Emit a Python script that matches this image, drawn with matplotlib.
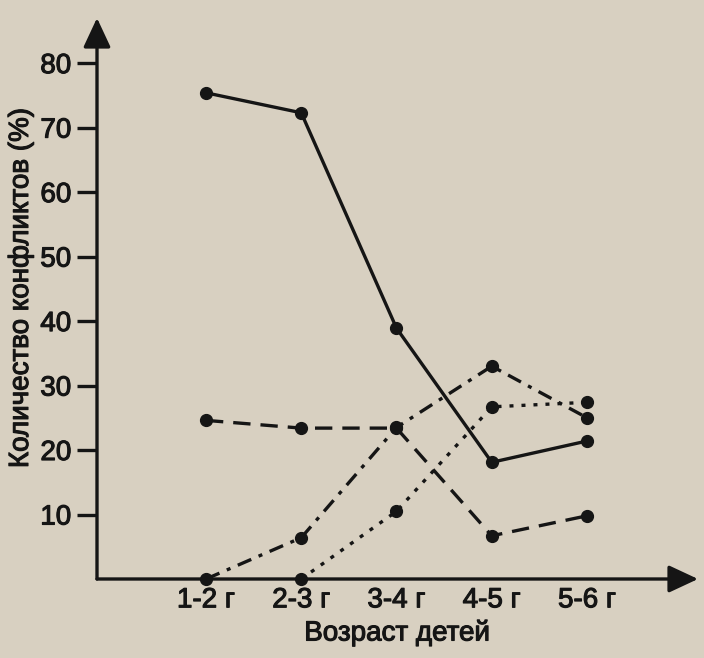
import matplotlib
matplotlib.use('Agg')
import matplotlib.pyplot as plt
import matplotlib.patheffects as pe
import numpy as np

plt.rcParams['font.family'] = ['Liberation Sans', 'DejaVu Sans']

# Данные
vozrast = ['1-2 г', '2-3 г', '3-4 г', '4-5 г', '5-6 г']
seriya_sploshnaya = [75.4, 72.3, 38.9, 18.1, 21.4]
seriya_shtrih = [24.6, 23.4, 23.4, 6.7, 9.8]
seriya_shtrihpunktir = [0, 6.4, 23.5, 33.0, 25.0]
seriya_punktir = [np.nan, 0, 10.5, 26.7, 27.4]
y_ticks = [10, 20, 30, 40, 50, 60, 70, 80]

fon = '#d8d0c1'
chern = '#151515'
tolsto = [pe.withStroke(linewidth=0.8, foreground=chern)]

fig = plt.figure(figsize=(7.04, 6.58), dpi=100, facecolor=fon)
ax = fig.add_axes([97/704, 79/658, 601/704, 561/658])
ax.set_facecolor(fon)

x = np.arange(len(vozrast))
lw = 2.4
ms = 8.5
ax.plot(x, seriya_sploshnaya, '-', color=chern, lw=lw, marker='o', ms=ms, clip_on=False, zorder=3)
ax.plot(x, seriya_shtrih, color=chern, lw=lw, ls=(0, (5.2, 3.0)), marker='o', ms=ms, clip_on=False, zorder=3)
ax.plot(x, seriya_shtrihpunktir, color=chern, lw=lw, ls=(0, (4.4, 2.4, 1.2, 2.4)), marker='o', ms=ms, clip_on=False, zorder=3)
ax.plot(x, seriya_punktir, color=chern, lw=lw, ls=(0, (1.2, 2.4)), marker='o', ms=ms, clip_on=False, zorder=3)

ax.set_xlim(-1.144, 5.165)
ax.set_ylim(0, 87.0)

for s in ax.spines.values():
    s.set_visible(False)

# Оси со стрелками
strelka = dict(arrowstyle='-|>,head_length=0.9,head_width=0.42', mutation_scale=20,
               lw=2.4, color=chern, shrinkA=0, shrinkB=0)
ax.annotate('', xy=(0, 1), xytext=(0, 0), xycoords='axes fraction', arrowprops=strelka)
ax.annotate('', xy=(1, 0), xytext=(0, 0), xycoords='axes fraction', arrowprops=strelka)

ax.set_yticks(y_ticks)
ax.set_yticklabels([str(t) for t in y_ticks])
ax.tick_params(axis='y', direction='out', length=14.5, width=2.4, color=chern,
               labelsize=20, pad=4, labelcolor=chern)
ax.set_xticks(x)
ax.set_xticklabels(vozrast)
ax.tick_params(axis='x', length=0, labelsize=20, pad=6, labelcolor=chern)

for t in ax.get_xticklabels() + ax.get_yticklabels():
    t.set_path_effects(tolsto)

ax.set_ylabel('Количество конфликтов (%)', fontsize=20, color=chern, path_effects=tolsto)
ax.set_xlabel('Возраст детей', fontsize=20, color=chern, path_effects=tolsto)
ax.yaxis.set_label_coords((34-97)/601, (579-288)/561)
ax.xaxis.set_label_coords((397-97)/601, -(620-579)/561)

fig.savefig('out.png', dpi=100, facecolor=fon)
